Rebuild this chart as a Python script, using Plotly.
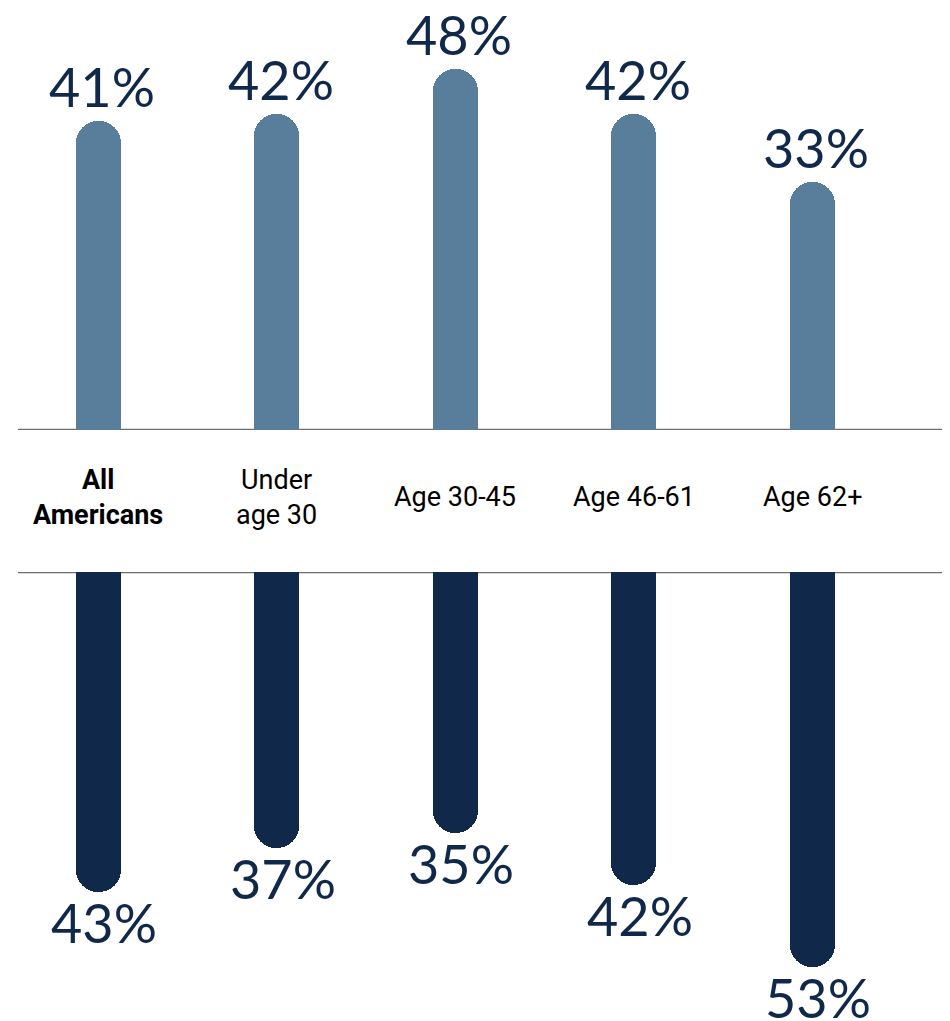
import plotly.graph_objects as go

categories = ["All Americans", "Under age 30", "Age 30-45", "Age 46-61", "Age 62+"]
category_labels = ["<b>All<br>Americans</b>", "Under<br>age 30", "Age 30-45", "Age 46-61", "Age 62+"]
top_values = [41, 42, 48, 42, 33]
bottom_values = [43, 37, 35, 42, 53]

W, H = 950, 1021
OFF = 8  # page body margin offset
TOP_BASE_PX = 430 - OFF
BOT_BASE_PX = 572 - OFF
PX_PER_PCT_TOP = 7.53
PX_PER_PCT_BOT = 7.45
TOP_COLOR = "#587E9C"
BOT_COLOR = "#10284A"
TEXT_COLOR = "#10284A"

x0_px, step_px = 98 - OFF, 178.5
xr0 = -x0_px / step_px
xr1 = xr0 + W / step_px
bar_w = 45 / step_px

fig = go.Figure()
fig.add_trace(go.Bar(
    x=categories, y=top_values, xaxis="x", yaxis="y",
    width=bar_w, marker=dict(color=TOP_COLOR, cornerradius="50%", line=dict(width=0)),
    hoverinfo="skip",
))
fig.add_trace(go.Bar(
    x=categories, y=[-v for v in bottom_values], xaxis="x2", yaxis="y2",
    width=bar_w, marker=dict(color=BOT_COLOR, cornerradius="50%", line=dict(width=0)),
    hoverinfo="skip",
))

annotations = []
for c, v in zip(categories, top_values):
    annotations.append(dict(x=c, y=v, xref="x", yref="y", text=f"{v}%",
                            showarrow=False, yanchor="bottom", xanchor="center", yshift=0, xshift=4,
                            font=dict(family="Lato", size=54, color=TEXT_COLOR)))
for c, v in zip(categories, bottom_values):
    annotations.append(dict(x=c, y=-v, xref="x2", yref="y2", text=f"{v}%",
                            showarrow=False, yanchor="top", xanchor="center", yshift=4, xshift=6,
                            font=dict(family="Lato", size=54, color=TEXT_COLOR)))
label_y = (H - (497 - OFF)) / H
for c, lab in zip(categories, category_labels):
    annotations.append(dict(x=c, y=label_y, xref="x", yref="paper", text=lab,
                            showarrow=False, yanchor="middle", xanchor="center",
                            font=dict(family="Roboto", size=27, color="#000000")))

shapes = [
    dict(type="line", xref="paper", yref="y", x0=(18 - OFF) / W, x1=(943 - OFF) / W, y0=0, y1=0,
         line=dict(color="#6E6E6E", width=2.5), layer="below"),
    dict(type="line", xref="paper", yref="y2", x0=(18 - OFF) / W, x1=(943 - OFF) / W, y0=0, y1=0,
         line=dict(color="#6E6E6E", width=2.5), layer="below"),
]

fig.update_layout(
    width=W, height=H, margin=dict(l=0, r=0, t=0, b=0),
    paper_bgcolor="white", plot_bgcolor="white", showlegend=False,
    bargap=0,
    xaxis=dict(domain=[0, 1], range=[xr0, xr1], visible=False, anchor="y"),
    xaxis2=dict(domain=[0, 1], range=[xr0, xr1], visible=False, anchor="y2", matches="x"),
    yaxis=dict(domain=[(H - TOP_BASE_PX) / H, 1], range=[0, TOP_BASE_PX / PX_PER_PCT_TOP],
               visible=False),
    yaxis2=dict(domain=[0, (H - BOT_BASE_PX) / H], range=[-(H - BOT_BASE_PX) / PX_PER_PCT_BOT, 0],
                visible=False),
    annotations=annotations, shapes=shapes,
)

fig.write_html("out.html")
